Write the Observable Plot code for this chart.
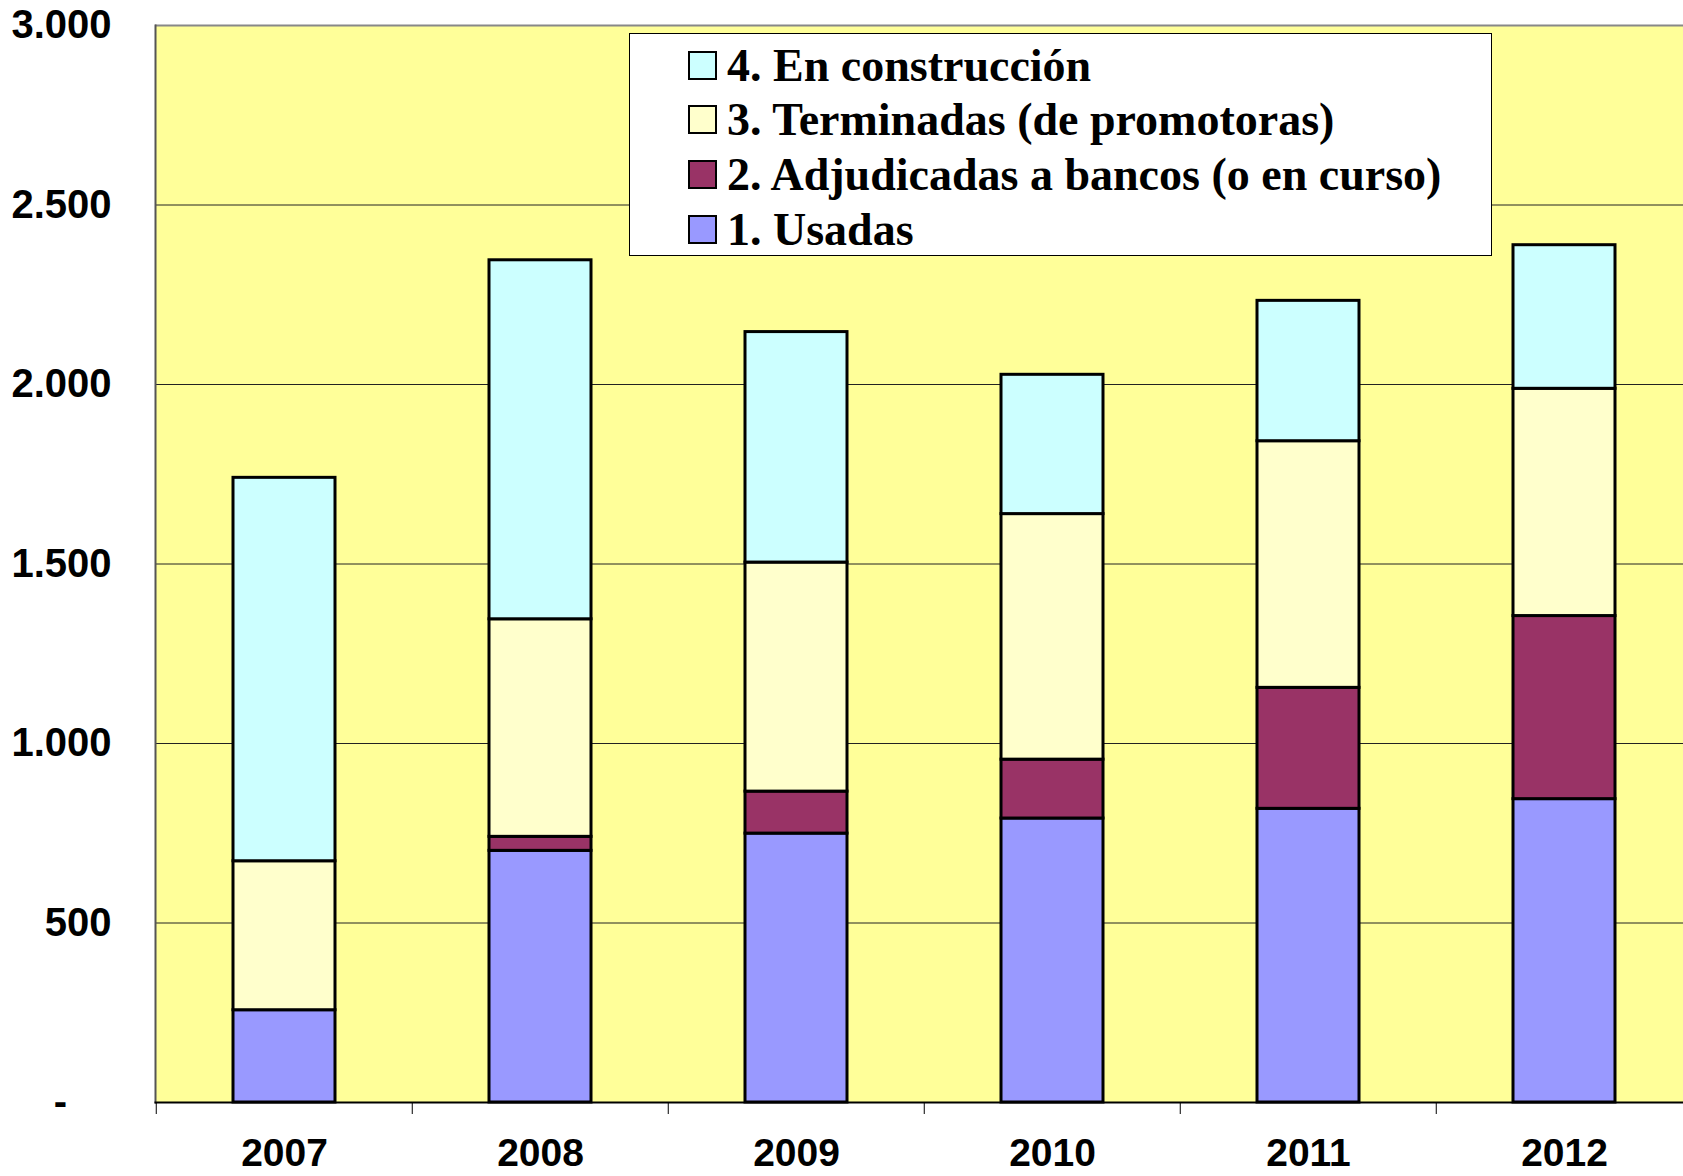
<!DOCTYPE html>
<html>
<head>
<meta charset="utf-8">
<script src="https://cdn.jsdelivr.net/npm/d3@7"></script>
<script src="https://cdn.jsdelivr.net/npm/@observablehq/plot@0.6"></script>
<style>
  html, body { margin: 0; padding: 0; background: #fff; overflow: hidden; }
  #wrap { position: relative; width: 1683px; height: 1176px; overflow: hidden; }
  #chart svg { max-width: none !important; }
  #legend {
    position: absolute; left: 629px; top: 33px; width: 863px; height: 223px;
    background: #fff; border: 1.5px solid #000; box-sizing: border-box;
    font-family: "Liberation Serif", "Times New Roman", serif; font-weight: bold; font-size: 46px; color: #000;
  }
  .item { position: absolute; left: 58px; display: flex; align-items: center; height: 50px; white-space: nowrap; }
  .sw { width: 25px; height: 25px; border: 2px solid #000; margin-right: 10px; box-sizing: content-box; flex: none; }
</style>
</head>
<body>
<div id="wrap"><div id="chart"></div><div id="legend"></div></div>
<script>
const years = ["2007", "2008", "2009", "2010", "2011", "2012"];
const usadas = [257, 701, 749, 791, 818, 845];
const adjudicadas = [0, 39, 117, 164, 337, 510];
const terminadas = [415, 606, 638, 684, 687, 633];
const construccion = [1068, 1000, 642, 388, 391, 400];
const series = ["1. Usadas", "2. Adjudicadas a bancos (o en curso)", "3. Terminadas (de promotoras)", "4. En construcción"];
const colors = ["#9999FF", "#993366", "#FFFFCC", "#CCFFFF"];
const yTicks = [0, 500, 1000, 1500, 2000, 2500, 3000];

const seriesValues = [usadas, adjudicadas, terminadas, construccion];
const data = years.flatMap((year, i) => series.map((s, j) => ({year, series: s, value: seriesValues[j][i]})));

const W = 1694, H = 1176, ML = 155, MR = 0, MT = 25, MB = 74;
const step = (W - ML - MR) / years.length;

const fmt = d => d === 0 ? "-\u2007\u2007" : d3.format(",")(d).replace(/,/g, ".");

const chart = Plot.plot({
  width: W, height: H,
  marginLeft: ML, marginRight: MR, marginTop: MT, marginBottom: MB,
  style: {fontFamily: "'Liberation Sans', Arial, sans-serif", background: "transparent", maxWidth: "none"},
  x: {domain: years, paddingInner: 0.6, paddingOuter: 0.3, align: 0.5, label: null},
  y: {domain: [0, 3000], label: null},
  color: {domain: series, range: colors},
  marks: [
    Plot.frame({fill: "#FFFF99", stroke: null}),
    Plot.ruleY(yTicks.filter(d => d > 0 && d < 3000), {stroke: "#222", strokeWidth: 1}),
    Plot.ruleY([3000], {stroke: "#888", strokeWidth: 2}),
    Plot.barY(data, {x: "year", y: "value", fill: "series", stroke: "#000", strokeWidth: 3}),
    Plot.frame({anchor: "left", stroke: "#555", strokeWidth: 2}),
    Plot.frame({anchor: "bottom", stroke: "#000", strokeWidth: 2}),
    Plot.axisY({ticks: yTicks, tickSize: 12, tickPadding: 32, tickFormat: fmt, fontSize: 40, fontWeight: "bold", fill: "#000", stroke: null}),
    Plot.axisX({tickSize: 0, tickPadding: 36, fontSize: 39, fontWeight: "bold", label: null}),
    Plot.axisX({tickSize: 12, tickFormat: () => "", dx: -step / 2, label: null})
  ]
});
d3.select(chart).selectAll("text").attr("font-weight", "bold");
chart.style.maxWidth = "none";
document.getElementById("chart").appendChild(chart);

const legend = document.getElementById("legend");
const order = [3, 2, 1, 0];
order.forEach((k, r) => {
  const it = document.createElement("div");
  it.className = "item";
  it.style.top = (6 + r * 54.8) + "px";
  const sw = document.createElement("div");
  sw.className = "sw";
  sw.style.background = colors[k];
  const tx = document.createElement("span");
  tx.textContent = series[k];
  it.appendChild(sw); it.appendChild(tx);
  legend.appendChild(it);
});
</script>
</body>
</html>
